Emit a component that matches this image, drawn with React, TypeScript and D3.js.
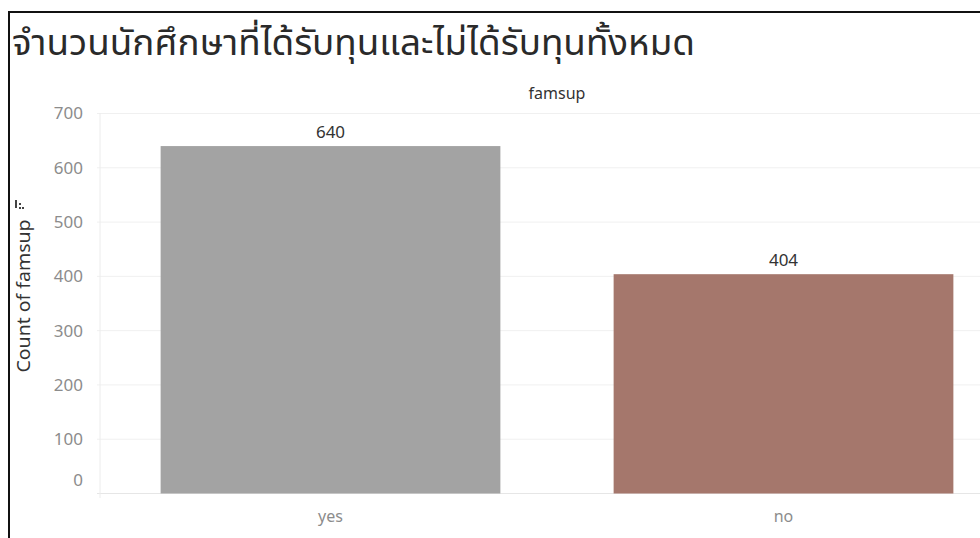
import React from "react";
import * as d3 from "d3";

const TITLE = "จำนวนนักศึกษาที่ได้รับทุนและไม่ได้รับทุนทั้งหมด";
const HEADER = "famsup";
const Y_LABEL = "Count of famsup";
const categories = ["yes", "no"];
const counts = [640, 404];
const barColors = ["#a3a3a3", "#a5776c"];
const yTicks = [0, 100, 200, 300, 400, 500, 600, 700];

const W = 980;
const H = 538;
const FONT = "'Noto Sans', 'Open Sans', sans-serif";
const TITLE_FONT = "'Noto Sans Thai', 'Noto Sans Thai UI', 'Noto Sans', sans-serif";

export default function App() {
  const x = d3
    .scaleBand<string>()
    .domain(categories)
    .range([104, 1010])
    .paddingInner(0.25)
    .paddingOuter(0.125);
  const y = d3.scaleLinear().domain([0, 700]).range([493.5, 113.5]);

  return (
    <svg
      width={W}
      height={H}
      style={{ position: "absolute", left: 0, top: 0, background: "#fff" }}
      fontFamily={FONT}
    >
      <rect x={0} y={0} width={W} height={H} fill="#fff" />
      {/* frame */}
      <line x1={8} x2={W} y1={12} y2={12} stroke="#111" strokeWidth={2} />
      <line x1={9} x2={9} y1={11} y2={H} stroke="#111" strokeWidth={2} />

      <text
        x={12}
        y={55}
        fontSize={35}
        fill="#2a2a2a"
        fontFamily={TITLE_FONT}
        textLength={683}
        lengthAdjust="spacingAndGlyphs"
      >
        {TITLE}
      </text>

      <text x={557} y={93} dy="0.35em" fontSize={16} fill="#333" textAnchor="middle">
        {HEADER}
      </text>

      {/* gridlines */}
      {yTicks.map((t) => (
        <line
          key={"g" + t}
          x1={97}
          x2={W}
          y1={y(t)}
          y2={y(t)}
          stroke={t === 0 ? "#e6e6e6" : "#f0f0f0"}
          strokeWidth={1}
        />
      ))}
      <line x1={100} x2={100} y1={113} y2={498} stroke="#ececec" strokeWidth={1} />

      {/* y tick labels */}
      {yTicks.map((t) => (
        <text
          key={"t" + t}
          x={83}
          y={t === 0 ? y(t) - 13 : y(t)}
          dy="0.35em"
          fontSize={17}
          fill="#8c8c8c"
          textAnchor="end"
        >
          {t}
        </text>
      ))}

      {/* y axis label */}
      <text
        transform={`translate(24, 296) rotate(-90)`}
        fontSize={18}
        fill="#333"
        textAnchor="middle"
        dy="0.35em"
        textLength={153}
        lengthAdjust="spacingAndGlyphs"
      >
        {Y_LABEL}
      </text>
      <g transform={`translate(15, 200)`} fill="#444">
        <rect x={0} y={0} width={2} height={8} />
        <rect x={4} y={3} width={2} height={2} />
        <rect x={4} y={7} width={2} height={2} />
        <rect x={7} y={7} width={2} height={2} />
      </g>

      {/* bars */}
      {categories.map((c, i) => (
        <g key={c}>
          <rect
            x={x(c)}
            y={y(counts[i])}
            width={x.bandwidth()}
            height={y(0) - y(counts[i])}
            fill={barColors[i]}
          />
          <text
            x={(x(c) as number) + x.bandwidth() / 2}
            y={y(counts[i]) - 14}
            dy="0.35em"
            fontSize={17}
            fill="#333"
            textAnchor="middle"
          >
            {counts[i]}
          </text>
          <text
            x={(x(c) as number) + x.bandwidth() / 2}
            y={516}
            dy="0.35em"
            fontSize={16}
            fill="#8c8c8c"
            textAnchor="middle"
          >
            {c}
          </text>
        </g>
      ))}
    </svg>
  );
}
